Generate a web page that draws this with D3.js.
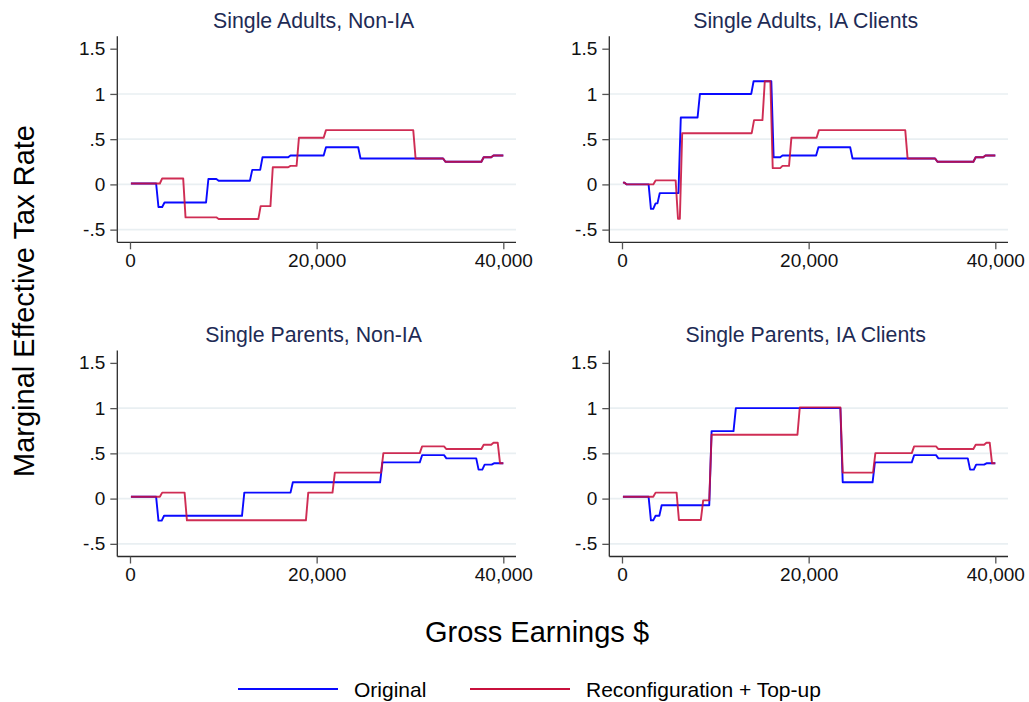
<!DOCTYPE html>
<html>
<head>
<meta charset="utf-8">
<script src="https://cdn.jsdelivr.net/npm/d3@7"></script>
<style>
  html, body { margin: 0; padding: 0; background: #fff; }
  svg { display: block; font-family: "Liberation Sans", Arial, Helvetica, sans-serif; }
</style>
</head>
<body>
<svg id="chart" width="1029" height="702"></svg>
<script>
// Marginal effective tax rate by gross earnings.
// Each series is a list of earnings bands: [band start ($), rate].
// A band holds its rate until the next band begins; the last runs to $40,000.

const panelTitles = [
  "Single Adults, Non-IA",
  "Single Adults, IA Clients",
  "Single Parents, Non-IA",
  "Single Parents, IA Clients"
];

const seriesNames = ["Original", "Reconfiguration + Top-up"];

const xTicks = [0, 20000, 40000];
const yTicks = [-0.5, 0, 0.5, 1, 1.5];
const yTickLabels = ["-.5", "0", ".5", "1", "1.5"];
const yGrid = [-0.5, 0, 0.5, 1];
const earningsMax = 40000;

// Single adults, not on income assistance
const saNonIaOriginal = [[100,0.01],[3050,-0.25],[3700,-0.2],[8400,0.06],[9500,0.04],[13100,0.16],[14200,0.30],[17200,0.32],[21000,0.41],[24700,0.287],[33800,0.25],[37900,0.30],[38950,0.32]];
const saNonIaReform   = [[100,0.01],[3450,0.066],[5950,-0.364],[9500,-0.383],[14000,-0.24],[15300,0.19],[17200,0.205],[18100,0.515],[21000,0.60],[30600,0.287],[33800,0.25],[37900,0.30],[38950,0.32]];

// Single adults, income assistance clients
const saIaOriginal = [[100,0.02],[500,0.0],[3100,-0.27],[3600,-0.21],[4050,-0.096],[6300,0.74],[8350,1.0],[14100,1.14],[16250,0.30],[17200,0.32],[21050,0.41],[24700,0.287],[33800,0.25],[37900,0.30],[38950,0.32]];
const saIaReform   = [[100,0.02],[500,0.0],[3600,0.044],[6000,-0.38],[6450,0.566],[14150,0.71],[15300,1.14],[16150,0.18],[17200,0.205],[18150,0.515],[21100,0.60],[30600,0.287],[33800,0.25],[37900,0.30],[38950,0.32]];

// Single parents, not on income assistance
const spNonIaOriginal = [[100,0.02],[3050,-0.243],[3650,-0.19],[12250,0.066],[17450,0.18],[27050,0.40],[31300,0.48],[33900,0.445],[37350,0.32],[38000,0.375],[39000,0.39]];
const spNonIaReform   = [[100,0.02],[3450,0.066],[6100,-0.24],[19100,0.066],[21950,0.287],[27150,0.503],[31300,0.577],[33900,0.548],[37900,0.596],[38950,0.618],[39650,0.39]];

// Single parents, income assistance clients
const spIaOriginal = [[100,0.02],[3100,-0.24],[3600,-0.19],[4250,-0.074],[9600,0.746],[12200,1.0],[23650,0.18],[27100,0.40],[31300,0.48],[33900,0.445],[37300,0.32],[37950,0.375],[39050,0.39]];
const spIaReform   = [[100,0.02],[3600,0.066],[6100,-0.236],[8700,-0.02],[9600,0.706],[19050,1.008],[23650,0.287],[27150,0.503],[31300,0.577],[33900,0.548],[37900,0.596],[39050,0.618],[39650,0.39]];

const panelSeries = [
  [saNonIaOriginal, saNonIaReform],
  [saIaOriginal, saIaReform],
  [spNonIaOriginal, spNonIaReform],
  [spIaOriginal, spIaReform]
];

const colors = ["#0a0aff", "#c8103c"];
const gridColor = "#e9eff2";
const axisColor = "#2b2b2b";
const titleColor = "#1e2b55";

// Earnings are computed on a grid, so each rate change is drawn over one grid step.
const gridStep = 250;

function bandsToPoints(bands) {
  const pts = [];
  bands.forEach((b, i) => {
    const end = i < bands.length - 1 ? bands[i + 1][0] - gridStep : earningsMax;
    pts.push([b[0], b[1]]);
    pts.push([end, b[1]]);
  });
  return pts;
}

const svg = d3.select("#chart");

// Panel frames
const panelW = 398.7, panelH = 206;
const lefts = [117.3, 609.3];
const tops = [36.3, 350.5];

// Domains extend slightly past the data so the axes have margins
const xDomain = [-1360, 41360];
const yDomain = [-0.64, 1.637];

panelTitles.forEach((title, p) => {
  const col = p % 2, row = Math.floor(p / 2);
  const x0 = lefts[col], y0 = tops[row];

  const x = d3.scaleLinear().domain(xDomain).range([x0, x0 + panelW]);
  const y = d3.scaleLinear().domain(yDomain).range([y0 + panelH, y0]);

  const g = svg.append("g");

  // horizontal grid lines
  g.selectAll("line.grid").data(yGrid).enter().append("line")
    .attr("x1", x0).attr("x2", x0 + panelW)
    .attr("y1", d => y(d)).attr("y2", d => y(d))
    .attr("stroke", gridColor).attr("stroke-width", 1.6);

  // y axis
  const yAxis = d3.axisLeft(y).tickValues(yTicks)
    .tickFormat((d, i) => yTickLabels[i])
    .tickSize(7).tickPadding(5);
  const ya = g.append("g").attr("transform", `translate(${x0},0)`).call(yAxis);
  ya.select(".domain").attr("d", `M0,${y0}V${y0 + panelH}`).attr("stroke", axisColor).attr("stroke-width", 1.3);
  ya.selectAll(".tick line").attr("stroke", "#555").attr("stroke-width", 1.3);
  ya.selectAll(".tick text").attr("font-size", 19).attr("fill", "#111")
    .attr("font-family", "Liberation Sans, Arial, sans-serif");

  // x axis
  const xAxis = d3.axisBottom(x).tickValues(xTicks)
    .tickFormat(d3.format(",")).tickSize(7).tickPadding(4);
  const xa = g.append("g").attr("transform", `translate(0,${y0 + panelH})`).call(xAxis);
  xa.select(".domain").attr("d", `M${x0},0H${x0 + panelW}`).attr("stroke", axisColor).attr("stroke-width", 1.3);
  xa.selectAll(".tick line").attr("stroke", "#555").attr("stroke-width", 1.3);
  xa.selectAll(".tick text").attr("font-size", 19).attr("fill", "#111")
    .attr("font-family", "Liberation Sans, Arial, sans-serif");

  // panel title
  g.append("text")
    .attr("x", x0 + panelW / 2 - 3).attr("y", y0 - 8.5)
    .attr("text-anchor", "middle").attr("font-size", 21.3).attr("fill", titleColor)
    .text(title);

  // series lines
  const line = d3.line().x(d => x(d[0])).y(d => y(d[1]));
  panelSeries[p].forEach((bands, s) => {
    g.append("path")
      .attr("d", line(bandsToPoints(bands)))
      .attr("fill", "none")
      .attr("stroke", colors[s])
      .attr("stroke-opacity", s === 1 ? 0.88 : 1)
      .attr("stroke-width", 1.9)
      .attr("stroke-linejoin", "round");
  });
});

// shared axis titles
svg.append("text")
  .attr("transform", "translate(33.5,301) rotate(-90)")
  .attr("text-anchor", "middle").attr("font-size", 29).attr("fill", "#000")
  .text("Marginal Effective Tax Rate");

svg.append("text")
  .attr("x", 537).attr("y", 642)
  .attr("text-anchor", "middle").attr("font-size", 29).attr("fill", "#000")
  .text("Gross Earnings $");

// legend
const legendItems = [
  { name: seriesNames[0], color: colors[0], x: 238 },
  { name: seriesNames[1], color: colors[1], x: 470 }
];
const lg = svg.append("g");
legendItems.forEach(item => {
  lg.append("line")
    .attr("x1", item.x).attr("x2", item.x + 100)
    .attr("y1", 689).attr("y2", 689)
    .attr("stroke", item.color).attr("stroke-width", 2);
  lg.append("text")
    .attr("x", item.x + 116).attr("y", 696.5)
    .attr("font-size", 21).attr("fill", "#000")
    .text(item.name);
});
</script>
</body>
</html>
